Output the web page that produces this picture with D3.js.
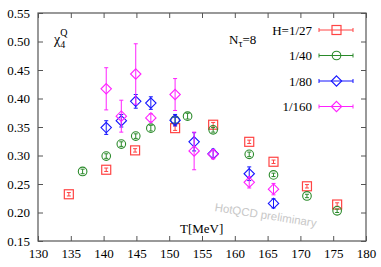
<!DOCTYPE html>
<html>
<head>
<meta charset="utf-8">
<script src="https://cdn.jsdelivr.net/npm/d3@7"></script>
<style>
  body { margin: 0; background: #fff; }
  text { font-family: "Liberation Serif", "DejaVu Serif", serif; }
</style>
</head>
<body>
<svg width="381" height="267"></svg>
<script>
// data: [T, value, error]
const h27 = [[134.7,0.232,0.003],[140.4,0.275,0.003],[144.8,0.309,0.003],[150.9,0.348,0.004],[156.7,0.354,0.004],
             [162.2,0.324,0.003],[165.9,0.289,0.003],[171.0,0.246,0.003],[175.6,0.214,0.003]]
const h40 = [[136.8,0.272,0.004],[140.4,0.299,0.004],[142.7,0.320,0.004],[144.9,0.334,0.004],[147.2,0.348,0.005],
             [150.9,0.362,0.005],[152.8,0.369,0.005],[156.7,0.345,0.004],[162.2,0.302,0.004],[165.9,0.266,0.003],
             [171.0,0.229,0.003],[175.6,0.203,0.003]]
const h80 = [[140.4,0.349,0.012],[142.7,0.361,0.011],[144.9,0.395,0.012],[147.2,0.392,0.011],[150.9,0.362,0.010],
             [153.8,0.324,0.016],[156.7,0.303,0.008],[162.2,0.268,0.012],[165.9,0.216,0.008]]
const h160 = [[140.4,0.417,0.037],[142.7,0.369,0.028],[144.9,0.443,0.053],[147.2,0.366,0.007],[150.9,0.407,0.028],
              [153.8,0.308,0.033],[156.7,0.302,0.008],[162.2,0.253,0.010],[165.9,0.241,0.010]]
const series = [
  { label: 'H=1/27', data: h27, color: '#f44', shape: 'square' },
  { label: '1/40', data: h40, color: '#2a8a2a', shape: 'circle' },
  { label: '1/80', data: h80, color: '#1515ff', shape: 'diamond' },
  { label: '1/160', data: h160, color: '#ff22ff', shape: 'diamond' }
]
const xTicks = [130,135,140,145,150,155,160,165,170,175,180]
const yTicks = [0.15,0.20,0.25,0.30,0.35,0.40,0.45,0.50,0.55]

const svg = d3.select('svg')
const m = { left: 38, right: 366, top: 13, bottom: 241 }
const x = d3.scaleLinear([130, 180], [m.left, m.right])
const y = d3.scaleLinear([0.15, 0.55], [m.bottom, m.top])

// axes with inward ticks, mirrored
const tl = 5
svg.append('g').attr('transform', `translate(0,${m.bottom})`)
  .call(d3.axisBottom(x).tickValues(xTicks).tickSize(-tl).tickPadding(8).tickFormat(d3.format('d')))
svg.append('g').attr('transform', `translate(0,${m.top})`)
  .call(d3.axisTop(x).tickValues(xTicks).tickSize(-tl).tickFormat(''))
svg.append('g').attr('transform', `translate(${m.left},0)`)
  .call(d3.axisLeft(y).tickValues(yTicks).tickSize(-tl).tickPadding(8).tickFormat(d3.format('.2f')))
svg.append('g').attr('transform', `translate(${m.right},0)`)
  .call(d3.axisRight(y).tickValues(yTicks).tickSize(-tl).tickFormat(''))
svg.selectAll('.domain').remove()
svg.selectAll('.tick line').attr('stroke', '#555')
svg.selectAll('.tick text').attr('font-size', 13).attr('fill', '#000')
  .attr('font-family', '"Liberation Serif", serif')
svg.append('rect').attr('x', m.left).attr('y', m.top)
  .attr('width', m.right - m.left).attr('height', m.bottom - m.top)
  .attr('fill', 'none').attr('stroke', '#555').attr('stroke-width', 1.2)

// watermark
svg.append('text').attr('transform', 'translate(265,219) rotate(9)')
  .attr('text-anchor', 'middle').attr('fill', '#c8c8c8')
  .style('font-family', '"Liberation Sans", Arial, sans-serif').attr('font-size', 11.5)
  .text('HotQCD preliminary')

function marker(g, shape, cx, cy, color) {
  if (shape === 'square') {
    g.append('rect').attr('x', cx - 4.5).attr('y', cy - 4.5).attr('width', 9).attr('height', 9)
      .attr('fill', 'none').attr('stroke', color).attr('stroke-width', 1.2)
  } else if (shape === 'circle') {
    g.append('circle').attr('cx', cx).attr('cy', cy).attr('r', 4.3)
      .attr('fill', 'none').attr('stroke', color).attr('stroke-width', 1.1)
  } else {
    const s = 5.2
    g.append('path').attr('d', `M${cx},${cy - s}L${cx + s},${cy}L${cx},${cy + s}L${cx - s},${cy}Z`)
      .attr('fill', 'none').attr('stroke', color).attr('stroke-width', 1.1)
  }
}

series.forEach(s => {
  const g = svg.append('g')
  s.data.forEach(([t, v, e]) => {
    const cx = x(t), y0 = y(v - e), y1 = y(v + e)
    g.append('line').attr('x1', cx).attr('x2', cx).attr('y1', y0).attr('y2', y1)
      .attr('stroke', s.color).attr('stroke-width', 1)
    ;[y0, y1].forEach(yy => g.append('line').attr('x1', cx - 2).attr('x2', cx + 2)
      .attr('y1', yy).attr('y2', yy).attr('stroke', s.color).attr('stroke-width', 1))
    marker(g, s.shape, cx, y(v), s.color)
  })
})

// legend
series.forEach((s, i) => {
  const ly = 30 + i * 25.5
  svg.append('text').attr('x', 312).attr('y', ly + 4.5).attr('text-anchor', 'end')
    .attr('font-size', 13).text(s.label)
  svg.append('line').attr('x1', 319).attr('x2', 353).attr('y1', ly).attr('y2', ly)
    .attr('stroke', s.color).attr('stroke-width', 1)
  ;[319, 353].forEach(xx => svg.append('line').attr('x1', xx).attr('x2', xx)
    .attr('y1', ly - 2).attr('y2', ly + 2).attr('stroke', s.color))
  marker(svg, s.shape, 336.5, ly, s.color)
})

// labels
const chi = svg.append('text').attr('x', 54).attr('y', 44).attr('font-size', 14)
chi.append('tspan').text('χ')
chi.append('tspan').attr('font-size', 10).attr('dy', 4).text('4')
chi.append('tspan').attr('font-size', 10).attr('dx', -5).attr('dy', -12).text('Q')

const nt = svg.append('text').attr('x', 229).attr('y', 44).attr('font-size', 13)
nt.append('tspan').text('N')
nt.append('tspan').attr('font-size', 10).attr('dy', 3).text('τ')
nt.append('tspan').attr('dy', -3).text('=8')

svg.append('text').attr('x', 180).attr('y', 233).attr('font-size', 13).text('T[MeV]')
</script>
</body>
</html>
